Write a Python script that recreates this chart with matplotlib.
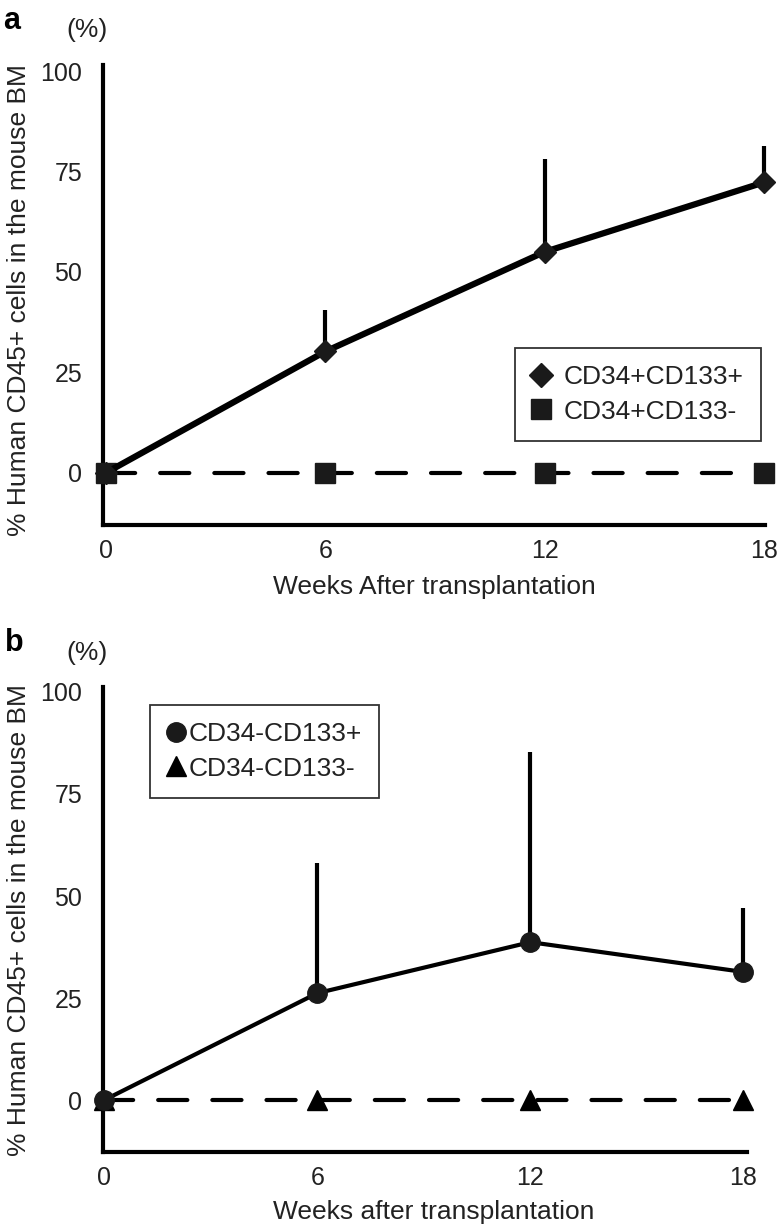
import matplotlib.pyplot as plt
from matplotlib.lines import Line2D

plt.rcParams['font.family'] = ['Liberation Sans', 'DejaVu Sans']

# Valores (%)
weeks = [0, 6, 12, 18]
cd34p_cd133p = [0, 30.2, 55.0, 72.3]
cd34p_cd133p_err = [0, 10.4, 23.0, 9.0]
cd34p_cd133n = [0, 0, 0, 0]
cd34n_cd133p = [0, 26.2, 38.7, 31.4]
cd34n_cd133p_err = [0, 32.0, 46.6, 15.7]
cd34n_cd133n = [0, 0, 0, 0]
yticks = [0, 25, 50, 75, 100]
ylabel = '% Human CD45+ cells in the mouse BM'

W, H = 777, 1228
fig = plt.figure(figsize=(W / 100, H / 100), dpi=100)

ax_a = fig.add_axes([103 / W, 1 - 525 / H, 662 / W, 460 / H])
ax_b = fig.add_axes([103 / W, 1 - 1152 / H, 644 / W, 465 / H])


def style_axis(ax, xlim, ylim):
    ax.set_xlim(*xlim)
    ax.set_ylim(*ylim)
    ax.set_xticks(weeks)
    ax.set_yticks(yticks)
    ax.spines['top'].set_visible(False)
    ax.spines['right'].set_visible(False)
    ax.spines['left'].set_linewidth(3)
    ax.spines['bottom'].set_linewidth(3)
    ax.tick_params(axis='y', length=0, pad=15, labelsize=18, labelcolor='#222222')
    ax.tick_params(axis='x', length=0, pad=10, labelsize=18, labelcolor='#222222')


# Painel a
ax = ax_a
ax.errorbar(weeks, cd34p_cd133p, yerr=[[0] * 4, cd34p_cd133p_err], fmt='none',
            ecolor='black', elinewidth=3, capsize=0, clip_on=False, zorder=2)
ax.plot(weeks, cd34p_cd133n, color='black', lw=3, dashes=[7, 6], dash_capstyle='round',
        marker='s', ms=14, mfc='#1a1a1a', mec='#1a1a1a', clip_on=False, zorder=3)
ax.plot(weeks, cd34p_cd133p, color='black', lw=4.5, solid_capstyle='round',
        marker='D', ms=11, mfc='#1a1a1a', mec='#1a1a1a', clip_on=False, zorder=4)
style_axis(ax, (-0.08, 18.02), (-13, 101.5))
handles = [Line2D([], [], ls='none', marker='D', ms=12, color='#1a1a1a', label='CD34+CD133+'),
           Line2D([], [], ls='none', marker='s', ms=14, color='#1a1a1a', label='CD34+CD133-')]
leg = ax.legend(handles=handles, loc='upper left', bbox_to_anchor=(515 / W, 1 - 348 / H),
                bbox_transform=fig.transFigure, fontsize=19, frameon=True, fancybox=False,
                edgecolor='black', handlelength=0.7, handletextpad=0.5, borderpad=0.65,
                labelspacing=0.4, borderaxespad=0)
leg.get_frame().set_linewidth(1.3)
for t in leg.get_texts():
    t.set_color('#222222')

# Painel b
ax = ax_b
ax.errorbar(weeks, cd34n_cd133p, yerr=[[0] * 4, cd34n_cd133p_err], fmt='none',
            ecolor='black', elinewidth=3, capsize=0, clip_on=False, zorder=2)
ax.plot(weeks, cd34n_cd133n, color='black', lw=3, dashes=[7, 6], dash_capstyle='round',
        marker='^', ms=15, mfc='black', mec='black', clip_on=False, zorder=3)
ax.plot(weeks, cd34n_cd133p, color='black', lw=3, marker='o', ms=14,
        mfc='#1a1a1a', mec='#1a1a1a', clip_on=False, zorder=4)
style_axis(ax, (-0.03, 18.1), (-12.7, 101.2))
handles = [Line2D([], [], ls='none', marker='o', ms=14, color='#1a1a1a', label='CD34-CD133+'),
           Line2D([], [], ls='none', marker='^', ms=14, color='black', label='CD34-CD133-')]
leg = ax.legend(handles=handles, loc='upper left', bbox_to_anchor=(150 / W, 1 - 705 / H),
                bbox_transform=fig.transFigure, fontsize=19, frameon=True, fancybox=False,
                edgecolor='black', handlelength=0.7, handletextpad=0.1, borderpad=0.65,
                labelspacing=0.4, borderaxespad=0)
leg.get_frame().set_linewidth(1.3)
for t in leg.get_texts():
    t.set_color('#222222')

# Textos soltos
fig.text(12 / W, 1 - 21 / H, 'a', fontsize=22, fontweight='bold', ha='center', va='center')
fig.text(14 / W, 1 - 643 / H, 'b', fontsize=22, fontweight='bold', ha='center', va='center')
fig.text(87 / W, 1 - 30 / H, '(%)', fontsize=19, ha='center', va='center', color='#222222')
fig.text(87 / W, 1 - 653 / H, '(%)', fontsize=19, ha='center', va='center', color='#222222')
fig.text(19 / W, 1 - 300 / H, ylabel, fontsize=19, rotation=90, ha='center', va='center', color='#222222')
fig.text(19 / W, 1 - 920 / H, ylabel, fontsize=19, rotation=90, ha='center', va='center', color='#222222')
fig.text(434 / W, 1 - 587 / H, 'Weeks After transplantation', fontsize=19, ha='center', va='center', color='#222222')
fig.text(434 / W, 1 - 1212 / H, 'Weeks after transplantation', fontsize=19, ha='center', va='center', color='#222222')

fig.savefig('out.png', dpi=100)
